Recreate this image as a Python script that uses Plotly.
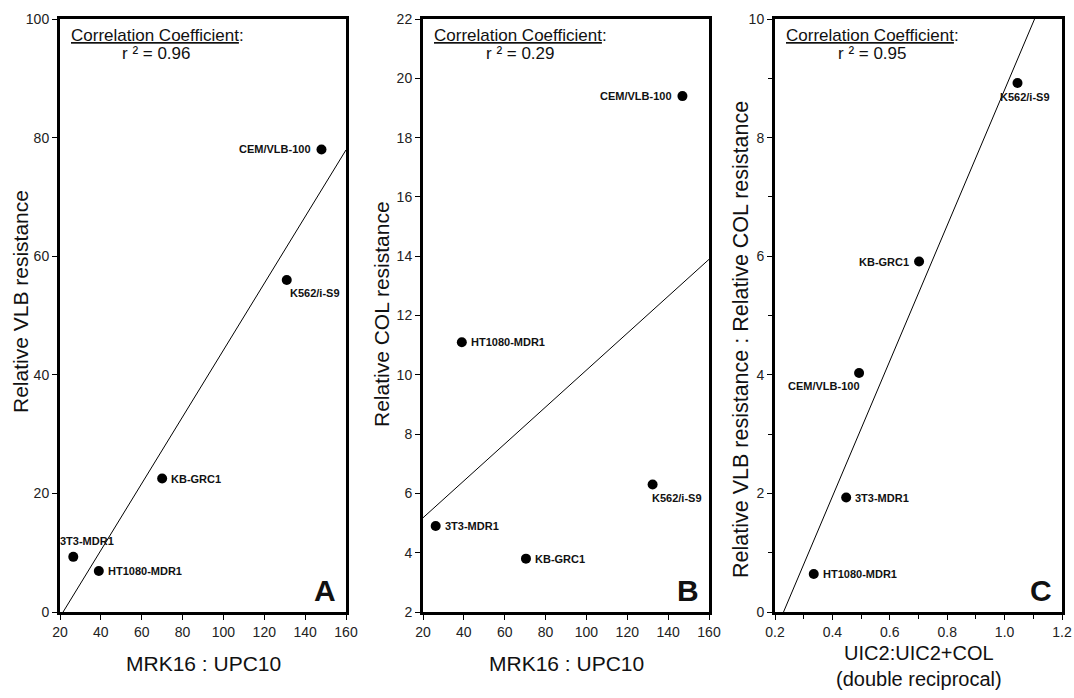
import numpy as np
import plotly.graph_objects as go

# ---------------- data ----------------
cell_lines = ["CEM/VLB-100", "K562/i-S9", "KB-GRC1", "3T3-MDR1", "HT1080-MDR1"]

# Panel A: MRK16:UPC10 vs relative VLB resistance
a_x = [148, 131, 70, 26.5, 39]
a_y = [78, 56, 22.5, 9.3, 6.9]

# Panel B: MRK16:UPC10 vs relative COL resistance
b_x = [147, 132.4, 70.4, 26.2, 39]
b_y = [19.4, 6.3, 3.8, 4.9, 11.1]

# Panel C: UIC2:UIC2+COL vs VLB:COL resistance ratio
c_x = [0.493, 1.045, 0.702, 0.448, 0.335]
c_y = [4.03, 8.92, 5.91, 1.93, 0.64]

r2_labels = ["r ² = 0.96", "r ² = 0.29", "r ² = 0.95"]
panel_letters = ["A", "B", "C"]
x_titles = ["MRK16 : UPC10", "MRK16 : UPC10", "UIC2:UIC2+COL<br>(double reciprocal)"]
y_titles = ["Relative VLB resistance", "Relative COL resistance",
            "Relative VLB resistance : Relative COL resistance"]

# ---------------- layout helpers ----------------
W, H = 1074, 698
FONT = "Liberation Sans, Arial, sans-serif"

def px(x):
    return x / W

def py(y):
    return 1 - y / H

def dx(d):
    return d / W

x_domains = [[px(60), px(346)], [px(423), px(709)], [px(775), px(1062)]]
y_domain = [py(612), py(19)]
x_ranges = [[20, 160], [20, 160], [0.2, 1.2]]
y_ranges = [[0, 100], [2, 22], [0, 10]]
x_dticks = [20, 20, 0.2]
y_dticks = [20, 2, 2]

# label placements: (xanchor, xshift, yshift) per cell line per panel
label_pos = [
    {"CEM/VLB-100": ("right", -8, 0), "K562/i-S9": ("left", 1, -13),
     "KB-GRC1": ("left", 7, 0), "3T3-MDR1": ("left", -15, 16),
     "HT1080-MDR1": ("left", 7, 0)},
    {"CEM/VLB-100": ("right", -8, 0), "K562/i-S9": ("left", -3, -13),
     "KB-GRC1": ("left", 7, 0), "3T3-MDR1": ("left", 7, 0),
     "HT1080-MDR1": ("left", 7, 0)},
    {"CEM/VLB-100": ("right", 3, -13), "K562/i-S9": ("left", -20, -14),
     "KB-GRC1": ("right", -8, 0), "3T3-MDR1": ("left", 7, 0),
     "HT1080-MDR1": ("left", 7, 0)},
]

fig = go.Figure()
annotations = []

datasets = [(a_x, a_y), (b_x, b_y), (c_x, c_y)]
for i, (xs, ys) in enumerate(datasets):
    xa = "x" if i == 0 else f"x{i+1}"
    ya = "y" if i == 0 else f"y{i+1}"
    # regression line computed from the data
    slope, intercept = np.polyfit(xs, ys, 1)
    lx = np.array(x_ranges[i], dtype=float)
    fig.add_trace(go.Scatter(x=lx, y=slope * lx + intercept, mode="lines",
                             line=dict(color="black", width=1),
                             xaxis=xa, yaxis=ya, showlegend=False,
                             hoverinfo="skip"))
    fig.add_trace(go.Scatter(x=xs, y=ys, mode="markers",
                             marker=dict(color="black", size=10),
                             xaxis=xa, yaxis=ya, showlegend=False,
                             text=cell_lines, cliponaxis=False))
    for name, xv, yv in zip(cell_lines, xs, ys):
        anc, xs_, ys_ = label_pos[i][name]
        annotations.append(dict(x=xv, y=yv, xref=xa, yref=ya, text=f"<b>{name}</b>",
                                showarrow=False, xanchor=anc, yanchor="middle",
                                xshift=xs_, yshift=ys_,
                                font=dict(family=FONT, size=11, color="#111")))

    x0, x1 = x_domains[i]
    xc = (x0 + x1) / 2
    # correlation text
    annotations.append(dict(x=x0 + dx(9), y=py(35), xref="paper", yref="paper",
                            text="<u>Correlation Coefficient</u>:", showarrow=False,
                            xanchor="left", yanchor="middle",
                            font=dict(family=FONT, size=17, color="#111")))
    annotations.append(dict(x=x0 + dx(97), y=py(54), xref="paper", yref="paper",
                            text=r2_labels[i], showarrow=False,
                            xanchor="center", yanchor="middle",
                            font=dict(family=FONT, size=17, color="#111")))
    # panel letter
    annotations.append(dict(x=x1 - dx(8), y=py(590), xref="paper", yref="paper",
                            text=f"<b>{panel_letters[i]}</b>", showarrow=False,
                            xanchor="right", yanchor="middle",
                            font=dict(family=FONT, size=30, color="#111")))
    # x title
    if i < 2:
        annotations.append(dict(x=xc, y=py(663), xref="paper", yref="paper",
                                text=x_titles[i], showarrow=False,
                                xanchor="center", yanchor="middle",
                                font=dict(family=FONT, size=21, color="#111")))
    else:
        annotations.append(dict(x=xc, y=py(666), xref="paper", yref="paper",
                                text=x_titles[i], showarrow=False,
                                xanchor="center", yanchor="middle",
                                font=dict(family=FONT, size=20, color="#111")))
    # y title
    ytx = [20, 381, 741][i]
    yty = [302, 314, 340][i]
    ysz = [21, 21, 21.5][i]
    annotations.append(dict(x=px(ytx), y=py(yty), xref="paper", yref="paper",
                            text=y_titles[i], showarrow=False, textangle=-90,
                            xanchor="center", yanchor="middle",
                            font=dict(family=FONT, size=ysz, color="#111")))

axis_common = dict(showline=True, linewidth=3, linecolor="black", mirror=True,
                   ticks="outside", ticklen=5, tickwidth=1.3, tickcolor="black",
                   showgrid=False, zeroline=False, automargin=False,
                   tickfont=dict(family=FONT, size=14, color="#222"))

layout = dict(width=W, height=H, margin=dict(l=0, r=0, t=0, b=0),
              plot_bgcolor="white", paper_bgcolor="white",
              annotations=annotations, showlegend=False)

for i in range(3):
    xk = "xaxis" if i == 0 else f"xaxis{i+1}"
    yk = "yaxis" if i == 0 else f"yaxis{i+1}"
    ya = "y" if i == 0 else f"y{i+1}"
    xa = "x" if i == 0 else f"x{i+1}"
    xax = dict(axis_common, domain=x_domains[i], range=x_ranges[i],
               dtick=x_dticks[i], tick0=x_ranges[i][0], anchor=ya)
    yax = dict(axis_common, domain=y_domain, range=y_ranges[i],
               dtick=y_dticks[i], tick0=y_ranges[i][0], anchor=xa)
    if i == 2:
        xax["tickformat"] = ".1f"
        xax["minor"] = dict(dtick=0.1, ticks="outside", ticklen=4,
                            tickwidth=1.2, tickcolor="black")
        yax["minor"] = dict(dtick=1, ticks="outside", ticklen=4,
                            tickwidth=1.2, tickcolor="black")
    layout[xk] = xax
    layout[yk] = yax

fig.update_layout(**layout)
fig.write_html("out.html",
               config={"displayModeBar": False},
               post_script="document.body.style.margin='0';"
                           "document.body.style.overflow='hidden';")
